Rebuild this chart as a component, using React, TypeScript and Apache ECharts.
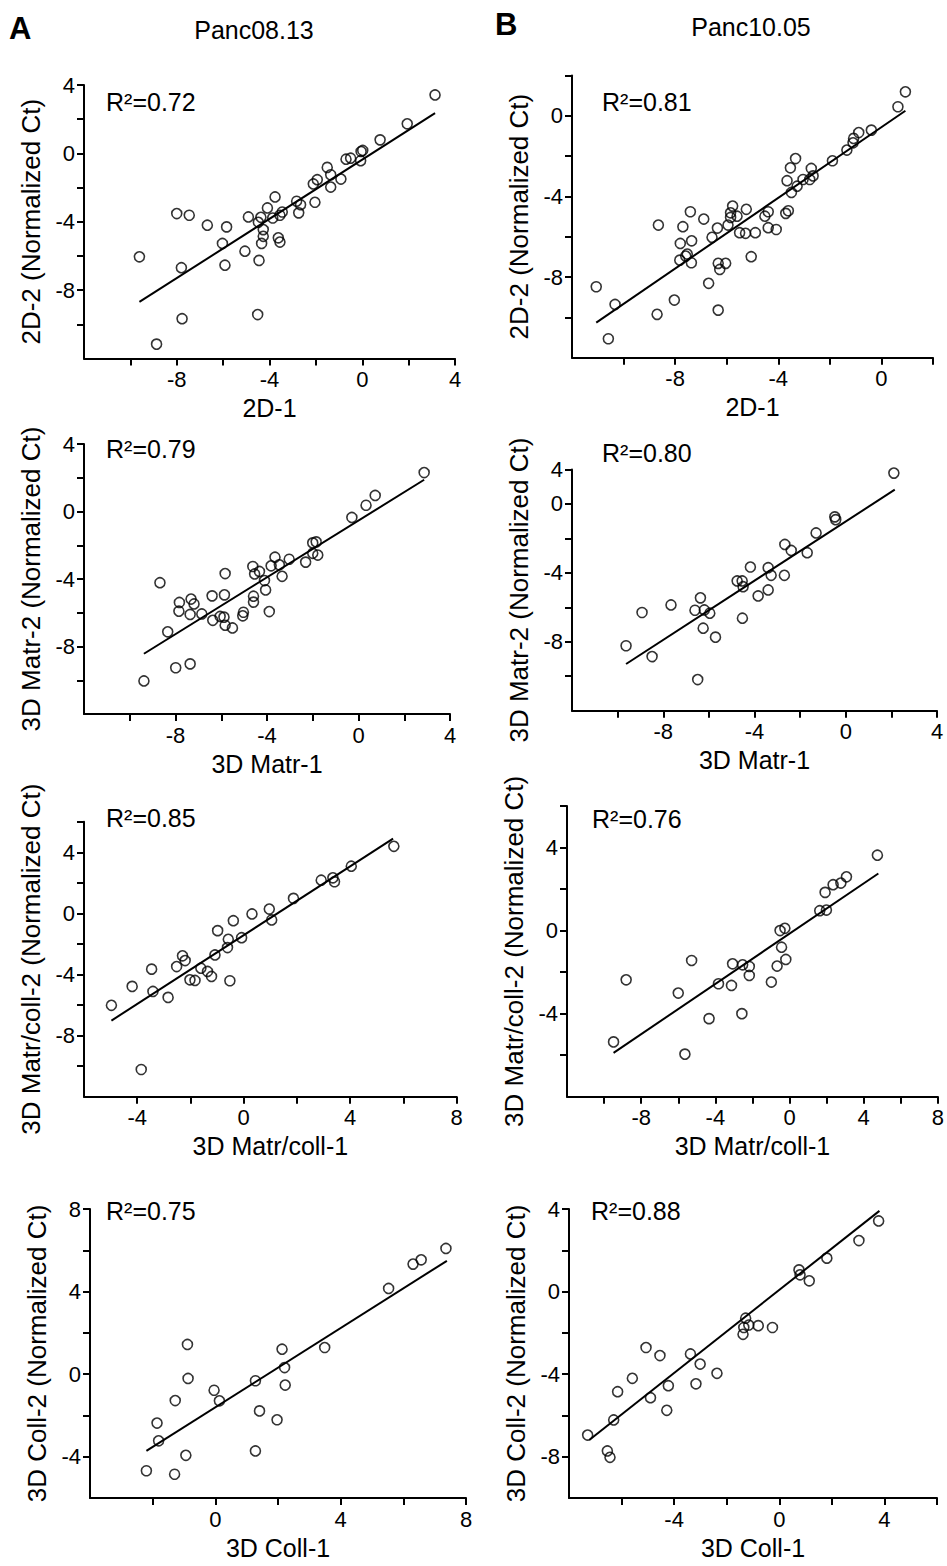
import React, { useEffect, useRef } from "react";
import * as echarts from "echarts";

const FONT = "'Liberation Sans', Arial, Helvetica, sans-serif";

const columnTitles = ["Panc08.13", "Panc10.05"];
const panelLetters = ["A", "B"];

const xNames = ["2D-1", "2D-1", "3D Matr-1", "3D Matr-1", "3D Matr/coll-1", "3D Matr/coll-1", "3D Coll-1", "3D Coll-1"];
const yNames = [
  "2D-2 (Normalized Ct)", "2D-2 (Normalized Ct)",
  "3D Matr-2 (Normalized Ct)", "3D Matr-2 (Normalized Ct)",
  "3D Matr/coll-2 (Normalized Ct)", "3D Matr/coll-2 (Normalized Ct)",
  "3D Coll-2 (Normalized Ct)", "3D Coll-2 (Normalized Ct)",
];
const r2Labels = ["R²=0.72", "R²=0.81", "R²=0.79", "R²=0.80", "R²=0.85", "R²=0.76", "R²=0.75", "R²=0.88"];

const xRanges = [[-12, 4], [-12, 2], [-12, 4], [-12, 4], [-6, 8], [-12, 8], [-4, 8], [-8, 6]];
const yRanges = [[-12, 4], [-12, 2], [-12, 4], [-12, 2], [-12, 6], [-8, 6], [-6, 8], [-10, 4]];

const xTickLabels = [
  [-8, -4, 0, 4], [-8, -4, 0], [-8, -4, 0, 4], [-8, -4, 0, 4],
  [-4, 0, 4, 8], [-8, -4, 0, 4, 8], [0, 4, 8], [-4, 0, 4],
];
const yTickLabels: [number, string][][] = [
  [[4, "4"], [0, "0"], [-4, "-4"], [-8, "-8"]],
  [[0, "0"], [-4, "-4"], [-8, "-8"]],
  [[4, "4"], [0, "0"], [-4, "-4"], [-8, "-8"]],
  [[2, "4"], [0, "0"], [-4, "-4"], [-8, "-8"]],
  [[4, "4"], [0, "0"], [-4, "-4"], [-8, "-8"]],
  [[4, "4"], [0, "0"], [-4, "-4"]],
  [[8, "8"], [4, "4"], [0, "0"], [-4, "-4"]],
  [[4, "4"], [0, "0"], [-4, "-4"], [-8, "-8"]],
];

// Panc08.13 – 2D
const pointsA1 = [
  [3.14, 3.42], [1.94, 1.73], [0.77, 0.79], [0.02, 0.17], [-0.05, 0.11], [-0.07, -0.43], [-0.5, -0.28], [-0.7, -0.34],
  [-0.92, -1.5], [-1.51, -0.82], [-1.36, -1.25], [-1.36, -1.97], [-1.94, -1.54], [-2.11, -1.79], [-2.04, -2.86],
  [-2.83, -2.8], [-2.66, -3.0], [-2.74, -3.48], [-3.76, -2.55], [-4.09, -3.19], [-3.45, -3.43], [-3.55, -3.62],
  [-3.86, -3.78], [-4.37, -3.74], [-4.48, -4.03], [-4.91, -3.72], [-4.27, -4.46], [-4.27, -4.85], [-4.34, -5.27],
  [-3.62, -4.94], [-3.55, -5.19], [-4.45, -6.26], [-4.51, -9.43], [-5.06, -5.72], [-5.85, -4.3], [-6.03, -5.27],
  [-5.92, -6.54], [-6.68, -4.2], [-7.46, -3.62], [-8.0, -3.52], [-7.8, -6.69], [-7.77, -9.67], [-8.87, -11.16],
  [-9.61, -6.05],
];
const fitA1 = [[-9.61, -8.69], [3.14, 2.35]];

// Panc10.05 – 2D
const pointsB1 = [
  [0.93, 1.19], [0.64, 0.45], [-0.39, -0.71], [-0.88, -0.83], [-1.08, -1.12], [-1.1, -1.34], [-1.34, -1.7],
  [-1.9, -2.23], [-3.33, -2.12], [-3.53, -2.58], [-3.66, -3.22], [-2.72, -2.61], [-2.65, -2.98], [-2.78, -3.16],
  [-3.04, -3.16], [-3.27, -3.49], [-3.49, -3.8], [-3.61, -4.71], [-3.71, -4.84], [-4.39, -4.76], [-4.52, -4.98],
  [-4.39, -5.55], [-4.08, -5.64], [-5.24, -4.64], [-5.77, -4.48], [-5.85, -4.81], [-5.85, -5.04], [-5.6, -4.98],
  [-5.95, -5.42], [-5.5, -5.8], [-5.27, -5.83], [-4.89, -5.8], [-5.05, -6.99], [-6.36, -5.57], [-6.57, -6.03],
  [-6.89, -5.12], [-7.41, -4.76], [-7.7, -5.5], [-7.8, -6.33], [-7.36, -6.2], [-7.82, -7.16], [-7.53, -6.86],
  [-7.59, -6.96], [-7.37, -7.29], [-6.33, -7.32], [-6.04, -7.32], [-6.27, -7.62], [-6.7, -8.31], [-6.33, -9.64],
  [-8.65, -5.42], [-8.03, -9.14], [-8.7, -9.85], [-10.33, -9.36], [-11.06, -8.48], [-10.59, -11.06],
];
const fitB1 = [[-11.06, -10.26], [0.93, 0.25]];

// Panc08.13 – 3D Matr
const pointsA2 = [
  [2.87, 2.31], [0.73, 0.95], [0.33, 0.37], [-0.29, -0.35], [-1.85, -1.8], [-2.0, -1.86], [-2.0, -2.48],
  [-1.78, -2.58], [-2.31, -3.0], [-3.03, -2.83], [-3.46, -3.16], [-3.65, -2.71], [-3.82, -3.22], [-3.34, -3.84],
  [-4.11, -4.09], [-4.06, -4.65], [-3.9, -5.93], [-4.33, -3.55], [-4.62, -3.26], [-4.54, -3.7], [-4.59, -5.02],
  [-4.59, -5.37], [-5.03, -5.97], [-5.06, -6.18], [-5.83, -3.68], [-5.86, -4.94], [-5.88, -6.26], [-6.05, -6.22],
  [-5.83, -6.74], [-5.51, -6.9], [-6.37, -6.45], [-6.4, -5.0], [-6.85, -6.07], [-7.19, -5.48], [-7.32, -5.19],
  [-7.36, -6.1], [-7.85, -5.91], [-7.83, -5.39], [-8.68, -4.22], [-8.34, -7.13], [-7.99, -9.26], [-7.36, -9.03],
  [-9.38, -10.04],
];
const fitA2 = [[-9.38, -8.43], [2.87, 1.88]];

// Panc10.05 – 3D Matr
const pointsB2 = [
  [2.11, 1.79], [-0.48, -0.75], [-0.44, -0.91], [-1.3, -1.68], [-1.69, -2.83], [-2.67, -2.35], [-2.39, -2.7],
  [-2.69, -4.14], [-3.4, -3.7], [-3.27, -4.14], [-3.4, -4.99], [-4.18, -3.66], [-3.84, -5.34], [-4.76, -4.47],
  [-4.54, -4.47], [-4.5, -4.8], [-4.53, -6.63], [-6.37, -5.45], [-6.2, -6.15], [-5.96, -6.34], [-6.61, -6.17],
  [-6.25, -7.21], [-5.71, -7.73], [-6.49, -10.19], [-7.66, -5.86], [-8.93, -6.3], [-8.49, -8.86], [-9.63, -8.23],
];
const fitB2 = [[-9.63, -9.29], [2.15, 0.83]];

// Panc08.13 – 3D Matr/coll
const pointsA3 = [
  [5.64, 4.39], [4.04, 3.09], [3.35, 2.33], [3.41, 2.07], [2.91, 2.17], [1.87, 0.98], [0.96, 0.28], [1.05, -0.43],
  [0.31, -0.04], [-0.08, -1.59], [-0.39, -0.48], [-0.58, -1.7], [-0.61, -2.24], [-0.52, -4.41], [-0.98, -1.13],
  [-1.08, -2.72], [-1.21, -4.13], [-1.36, -3.8], [-1.61, -3.59], [-1.83, -4.39], [-2.02, -4.35], [-2.2, -3.09],
  [-2.3, -2.78], [-2.52, -3.48], [-2.84, -5.5], [-3.41, -5.11], [-3.46, -3.65], [-4.19, -4.78], [-4.97, -6.02],
  [-3.85, -10.22],
];
const fitA3 = [[-4.97, -7.02], [5.61, 4.89]];

// Panc10.05 – 3D Matr/coll
const pointsB3 = [
  [4.74, 3.63], [3.07, 2.59], [2.77, 2.29], [2.35, 2.21], [1.92, 1.84], [1.99, 0.99], [1.63, 0.96], [-0.25, 0.11],
  [-0.51, 0.0], [-0.43, -0.8], [-0.2, -1.39], [-0.67, -1.71], [-0.98, -2.48], [-2.17, -1.73], [-2.17, -2.16],
  [-2.53, -1.65], [-3.07, -1.6], [-3.13, -2.64], [-2.57, -4.0], [-3.83, -2.56], [-4.34, -4.24], [-5.28, -1.44],
  [-6.0, -3.01], [-5.64, -5.95], [-8.81, -2.37], [-9.49, -5.36],
];
const fitB3 = [[-9.49, -5.89], [4.79, 2.75]];

// Panc08.13 – 3D Coll
const pointsA4 = [
  [7.36, 6.09], [6.57, 5.54], [6.31, 5.33], [5.53, 4.15], [3.49, 1.29], [2.13, 1.21], [2.21, 0.32], [2.23, -0.53],
  [1.28, -0.32], [1.41, -1.78], [1.97, -2.21], [1.28, -3.72], [-0.04, -0.78], [0.13, -1.29], [-0.89, 1.44],
  [-0.87, -0.21], [-1.28, -1.28], [-1.86, -2.37], [-1.81, -3.23], [-0.94, -3.93], [-2.2, -4.68], [-1.3, -4.85],
];
const fitA4 = [[-2.2, -3.72], [7.39, 5.49]];

// Panc10.05 – 3D Coll
const pointsB4 = [
  [3.78, 3.42], [3.03, 2.47], [1.81, 1.62], [0.75, 1.05], [0.79, 0.81], [1.14, 0.52], [-1.28, -1.29], [-1.16, -1.62],
  [-1.35, -1.74], [-1.38, -2.07], [-0.8, -1.65], [-0.26, -1.74], [-3.38, -3.02], [-3.01, -3.51], [-2.37, -3.96],
  [-3.17, -4.47], [-4.22, -4.56], [-4.28, -5.75], [-4.9, -5.14], [-4.54, -3.1], [-5.07, -2.71], [-5.59, -4.2],
  [-6.15, -4.85], [-6.3, -6.22], [-7.29, -6.95], [-6.54, -7.72], [-6.44, -8.03],
];
const fitB4 = [[-7.23, -7.19], [3.81, 3.91]];

const panelPoints = [pointsA1, pointsB1, pointsA2, pointsB2, pointsA3, pointsB3, pointsA4, pointsB4];
const panelFits = [fitA1, fitB1, fitA2, fitB2, fitA3, fitB3, fitA4, fitB4];

// layout (pixels)
const gridBoxes = [
  { left: 84, top: 85, width: 371, height: 273.5 },
  { left: 572, top: 75.5, width: 361, height: 282.2 },
  { left: 84, top: 444, width: 366, height: 270 },
  { left: 572, top: 469.5, width: 365, height: 241.2 },
  { left: 84, top: 821.7, width: 372.7, height: 275 },
  { left: 567, top: 806, width: 371, height: 290.7 },
  { left: 90, top: 1209, width: 376, height: 289 },
  { left: 569, top: 1209, width: 368, height: 289 },
];
const r2Pos = [
  [106, 102], [602, 102], [106, 449], [602, 453], [106, 818], [592, 819], [106, 1211], [591, 1211],
];

export default function App() {
  const ref = useRef<HTMLDivElement>(null);
  useEffect(() => {
    document.body.style.margin = "0";
    if (!ref.current) return;
    const chart = echarts.init(ref.current, undefined, { renderer: "svg" });

    const axisLineStyle = { color: "#000", width: 2 };
    const grid = gridBoxes.map((g) => ({ ...g, containLabel: false }));
    const xAxis = xRanges.map((r, i) => ({
      type: "value",
      gridIndex: i,
      min: r[0],
      max: r[1],
      interval: 2,
      axisLine: { show: true, onZero: false, lineStyle: axisLineStyle },
      axisTick: { show: true, length: 7, lineStyle: axisLineStyle },
      splitLine: { show: false },
      axisLabel: {
        color: "#000",
        fontSize: 22,
        fontFamily: FONT,
        margin: 10,
        showMinLabel: false,
        formatter: (v: number) => (xTickLabels[i].some((t) => Math.abs(t - v) < 1e-6) ? String(v) : ""),
      },
      name: xNames[i],
      nameLocation: "middle",
      nameGap: 37,
      nameTextStyle: { color: "#000", fontSize: 25, fontFamily: FONT },
    }));
    const yAxis = yRanges.map((r, i) => ({
      type: "value",
      gridIndex: i,
      min: r[0],
      max: r[1],
      interval: 2,
      axisLine: { show: true, onZero: false, lineStyle: axisLineStyle },
      axisTick: { show: true, length: 7, lineStyle: axisLineStyle },
      splitLine: { show: false },
      axisLabel: {
        color: "#000",
        fontSize: 22,
        fontFamily: FONT,
        margin: 9,
        showMinLabel: false,
        formatter: (v: number) => {
          const hit = yTickLabels[i].find((p) => Math.abs(p[0] - v) < 1e-6);
          return hit ? hit[1] : "";
        },
      },
      name: yNames[i],
      nameLocation: "middle",
      nameGap: 40,
      nameTextStyle: { color: "#000", fontSize: 26, fontFamily: FONT },
    }));

    const series: any[] = [];
    panelPoints.forEach((pts, i) => {
      series.push({
        type: "line",
        xAxisIndex: i,
        yAxisIndex: i,
        data: panelFits[i],
        symbol: "none",
        lineStyle: { color: "#000", width: 2 },
        silent: true,
      });
      series.push({
        type: "scatter",
        xAxisIndex: i,
        yAxisIndex: i,
        data: pts,
        symbol: "circle",
        symbolSize: 10,
        itemStyle: { color: "rgba(0,0,0,0)", borderColor: "#000", borderWidth: 1.6 },
      });
    });

    const graphic: any[] = [];
    r2Labels.forEach((t, i) => {
      graphic.push({
        type: "text",
        x: r2Pos[i][0],
        y: r2Pos[i][1],
        style: { text: t, fontSize: 25, fontFamily: FONT, fill: "#000", align: "left", verticalAlign: "middle" },
      });
    });
    const headerX = [9, 495];
    const titleX = [254, 751];
    [0, 1].forEach((c) => {
      graphic.push({
        type: "text",
        x: headerX[c],
        y: c === 0 ? 28 : 24,
        style: { text: panelLetters[c], fontSize: 31, fontWeight: "bold", fontFamily: FONT, fill: "#000", align: "left", verticalAlign: "middle" },
      });
      graphic.push({
        type: "text",
        x: titleX[c],
        y: c === 0 ? 30 : 27,
        style: { text: columnTitles[c], fontSize: 25, fontFamily: FONT, fill: "#000", align: "center", verticalAlign: "middle" },
      });
    });

    chart.setOption({
      animation: false,
      backgroundColor: "#fff",
      grid,
      xAxis,
      yAxis,
      series,
      graphic,
    });
    return () => chart.dispose();
  }, []);
  return <div ref={ref} style={{ width: 947, height: 1566 }} />;
}
